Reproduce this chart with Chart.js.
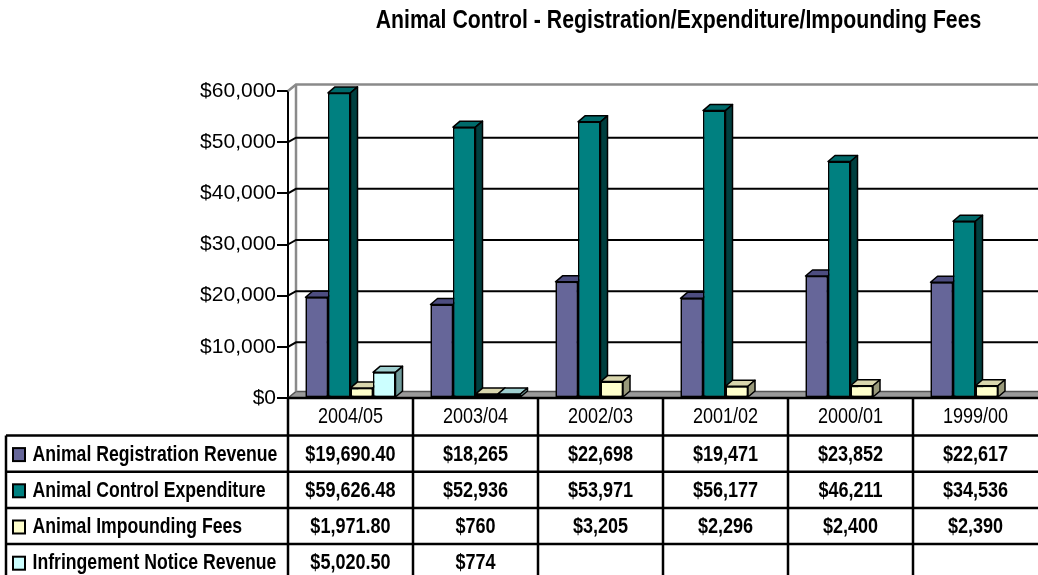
<!DOCTYPE html>
<html><head><meta charset="utf-8">
<script src="https://cdn.jsdelivr.net/npm/chart.js@4"></script>
<style>html,body{margin:0;padding:0;background:#fff}#wrap{width:1038px;height:575px;position:relative;overflow:hidden}</style>
</head><body><div id="wrap"><canvas id="c" width="1038" height="575"></canvas></div>
<script>
// ---- data ----
const chartTitle = 'Animal Control - Registration/Expenditure/Impounding Fees';
const categories = ['2004/05', '2003/04', '2002/03', '2001/02', '2000/01', '1999/00'];
const seriesNames = ['Animal Registration Revenue', 'Animal Control Expenditure', 'Animal Impounding Fees', 'Infringement Notice Revenue'];
const registrationRevenue = [19690.40, 18265, 22698, 19471, 23852, 22617];
const controlExpenditure = [59626.48, 52936, 53971, 56177, 46211, 34536];
const impoundingFees = [1971.80, 760, 3205, 2296, 2400, 2390];
const infringementRevenue = [5020.50, 774, null, null, null, null];
const yTickValues = [0, 10000, 20000, 30000, 40000, 50000, 60000];

// ---- styles ----
const frontColors = ['#666699', '#008080', '#FFFFCC', '#CCFFFF'];
const topColors = ['#4d4d80', '#006a6a', '#d9d6ad', '#9fcfcf'];
const sideColors = ['#333366', '#003f3f', '#99997a', '#6f9a9a'];
const BDX = 7, BDY = -6;     // bar depth
const WDX = 8, WDY = -6.5;   // wall depth
const GDY = -4.5;            // gridline depth
const FONT = '"Liberation Sans", Arial, sans-serif';
const NARROW_F = 0.82;

function money(v) {
  if (v == null) return '';
  const dec = Number.isInteger(v) ? 0 : 2;
  return '$' + v.toLocaleString('en-US', {minimumFractionDigits: dec, maximumFractionDigits: dec});
}
function narrowText(ctx, text, x, y, f) {
  const w = ctx.measureText(text).width;
  ctx.fillText(text, x, y, w * (f || NARROW_F));
}

const seriesData = [registrationRevenue, controlExpenditure, impoundingFees, infringementRevenue];

const threeD = {
  id: 'threeD',
  beforeDatasetsDraw(chart) {
    const {ctx, chartArea: a, scales: {y}} = chart;
    ctx.save();
    // floor
    ctx.fillStyle = '#9a9a9a';
    ctx.beginPath();
    ctx.moveTo(a.left, a.bottom);
    ctx.lineTo(a.left + WDX, a.bottom + WDY);
    ctx.lineTo(a.right + 10, a.bottom + WDY);
    ctx.lineTo(a.right + 10, a.bottom);
    ctx.closePath();
    ctx.fill();
    ctx.strokeStyle = '#555';
    ctx.lineWidth = 1.5;
    ctx.beginPath();
    ctx.moveTo(a.left, a.bottom);
    ctx.lineTo(a.left + WDX, a.bottom + WDY);
    ctx.lineTo(a.right + 10, a.bottom + WDY);
    ctx.stroke();
    // back wall left edge
    ctx.strokeStyle = '#8a8a8a';
    ctx.lineWidth = 2.5;
    ctx.beginPath();
    ctx.moveTo(a.left + WDX, y.getPixelForValue(y.max) + WDY);
    ctx.lineTo(a.left + WDX, a.bottom + WDY);
    ctx.stroke();
    // gridlines on side wall + back wall
    yTickValues.forEach(v => {
      if (v === 0) return;
      const py = y.getPixelForValue(v);
      const top = v === y.max;
      const dy = top ? WDY : GDY;
      ctx.strokeStyle = top ? '#8a8a8a' : '#000';
      ctx.lineWidth = top ? 2.5 : 2;
      ctx.beginPath();
      ctx.moveTo(a.left, py);
      ctx.lineTo(a.left + WDX, py + dy);
      ctx.lineTo(a.right + 10, py + dy);
      ctx.stroke();
    });
    ctx.restore();
  },
  afterDatasetsDraw(chart) {
    const ctx = chart.ctx;
    const n = chart.data.labels.length;
    ctx.save();
    ctx.lineJoin = 'round';
    for (let i = 0; i < n; i++) {
      for (let d = 0; d < chart.data.datasets.length; d++) {
        const v = chart.data.datasets[d].data[i];
        const el = chart.getDatasetMeta(d).data[i];
        if (v == null || !el) continue;
        el.draw(ctx);
        const p = el.getProps(['x', 'y', 'base', 'width'], true);
        const l = p.x - p.width / 2, r = p.x + p.width / 2, t = p.y, b = p.base;
        ctx.lineWidth = 1.5;
        ctx.strokeStyle = '#000';
        ctx.fillStyle = topColors[d];
        ctx.beginPath();
        ctx.moveTo(l, t); ctx.lineTo(l + BDX, t + BDY); ctx.lineTo(r + BDX, t + BDY); ctx.lineTo(r, t); ctx.closePath();
        ctx.fill(); ctx.stroke();
        ctx.fillStyle = sideColors[d];
        ctx.beginPath();
        ctx.moveTo(r, t); ctx.lineTo(r + BDX, t + BDY); ctx.lineTo(r + BDX, b + BDY); ctx.lineTo(r, b); ctx.closePath();
        ctx.fill(); ctx.stroke();
      }
    }
    ctx.restore();
  },
  afterDraw(chart) {
    const {ctx, chartArea: a, scales: {x}} = chart;
    const n = categories.length;
    const colW = (x.right - x.left) / n;
    const headTop = a.bottom, headBot = 435.5;
    const tableLeft = 6;
    const rowH = 36.2;
    ctx.save();
    // title
    ctx.fillStyle = '#000';
    ctx.font = 'bold 25px ' + FONT;
    ctx.textAlign = 'center';
    ctx.textBaseline = 'middle';
    narrowText(ctx, chartTitle, 678.5, 21, 0.85);
    // table lines
    ctx.strokeStyle = '#000';
    ctx.lineWidth = 2.5;
    ctx.beginPath();
    ctx.moveTo(a.left, headTop); ctx.lineTo(1040, headTop);
    for (let r = 0; r <= 4; r++) {
      const yy = headBot + r * rowH;
      ctx.moveTo(tableLeft, yy); ctx.lineTo(1040, yy);
    }
    ctx.moveTo(tableLeft, headBot); ctx.lineTo(tableLeft, 590);
    for (let k = 0; k < n; k++) {
      const xx = x.left + k * colW;
      ctx.moveTo(xx, headTop); ctx.lineTo(xx, 590);
    }
    ctx.stroke();
    // header
    ctx.font = '22px ' + FONT;
    ctx.textAlign = 'center';
    for (let i = 0; i < n; i++) {
      narrowText(ctx, categories[i], x.getPixelForValue(i), (headTop + headBot) / 2);
    }
    // rows
    for (let s = 0; s < seriesNames.length; s++) {
      const cy = headBot + s * rowH + rowH / 2 + 1;
      ctx.fillStyle = frontColors[s];
      ctx.fillRect(13, cy - 6.5, 12, 13);
      ctx.lineWidth = 2;
      ctx.strokeRect(13, cy - 6.5, 12, 13);
      ctx.fillStyle = '#000';
      ctx.font = 'bold 21.5px ' + FONT;
      ctx.textAlign = 'left';
      narrowText(ctx, seriesNames[s], 32.5, cy);
      ctx.font = 'bold 22px ' + FONT;
      ctx.textAlign = 'center';
      for (let i = 0; i < n; i++) {
        const v = seriesData[s][i];
        if (v == null) continue;
        narrowText(ctx, money(v), x.getPixelForValue(i), cy);
      }
    }
    ctx.restore();
  }
};

const datasets = seriesNames.map((name, d) => ({
  label: name,
  data: seriesData[d],
  backgroundColor: frontColors[d],
  borderColor: '#000',
  borderWidth: 1.5,
  borderSkipped: false
}));

new Chart(document.getElementById('c'), {
  type: 'bar',
  data: {labels: categories, datasets},
  options: {
    responsive: false,
    animation: false,
    devicePixelRatio: 1,
    layout: {padding: {top: 91, bottom: 177, left: 0, right: 0}},
    datasets: {bar: {categoryPercentage: 0.72, barPercentage: 1}},
    plugins: {legend: {display: false}, tooltip: {enabled: false}, title: {display: false}},
    scales: {
      x: {display: false, offset: true},
      y: {
        min: 0, max: 60000,
        afterFit(scale) { scale.width = 288; },
        afterBuildTicks(scale) { scale.ticks = yTickValues.map(v => ({value: v})); },
        ticks: {
          callback: v => money(v),
          color: '#000',
          padding: 1,
          font: {family: FONT, size: 21}
        },
        grid: {display: true, drawOnChartArea: false, drawTicks: true, tickLength: 11, color: '#000', lineWidth: 2},
        border: {display: true, color: '#000', width: 2}
      }
    }
  },
  plugins: [threeD]
});
</script>
</body></html>
